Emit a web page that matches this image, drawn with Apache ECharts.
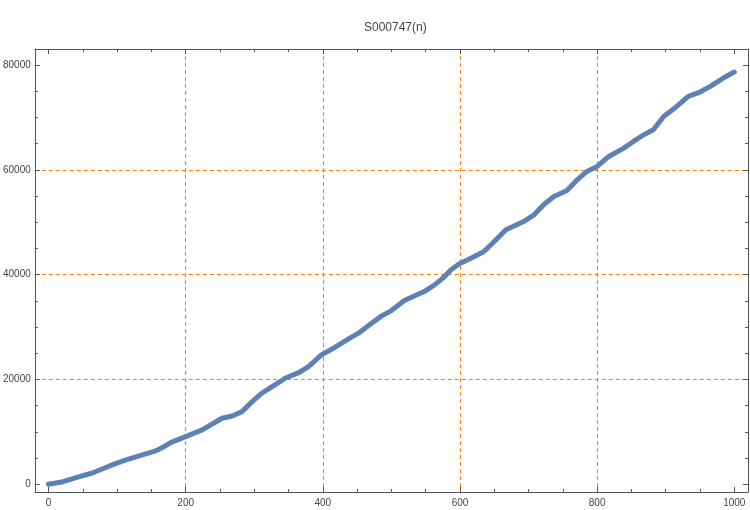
<!DOCTYPE html>
<html>
<head>
<meta charset="utf-8">
<script src="https://cdn.jsdelivr.net/npm/echarts@6/dist/echarts.min.js"></script>
<style>html,body{margin:0;padding:0;background:#fff}#c{width:750px;height:510px}</style>
</head>
<body>
<div id="c"></div>
<script>
var titleText = 'S000747(n)';
var nValues = [0,21,40,65,89,113,137,156,166,178,200,224,253,268,282,297,311,326,340,345,365,379,398,418,437,452,471,486,500,519,534,548,563,575,587,599,616,635,650,667,693,708,722,737,756,771,785,800,817,839,853,868,882,897,916,933,950,965,984,1000];
var sValues = [0,500,1260,2200,3500,4640,5600,6360,7000,7940,9090,10370,12600,13040,13860,15770,17370,18630,19780,20230,21300,22450,24680,26150,27680,28830,30730,32130,33140,35050,35950,36770,38050,39330,40910,42060,43140,44400,46310,48550,50130,51410,53320,54900,56050,58090,59680,60630,62540,64140,65400,66680,67640,70180,72090,74000,74830,75900,77500,78650];
var xTicks = [0,200,400,600,800,1000];
var xMinorTicks = [50,100,150,250,300,350,450,500,550,650,700,750,850,900,950];
var yTicks = [0,20000,40000,60000,80000];
var yMinorTicks = [5000,10000,15000,25000,30000,35000,45000,50000,55000,65000,70000,75000];
var xGridLines = [200,400,600,800];
var yGridLines = [20000,40000,60000];

var X_MIN = -20, X_MAX = 1020, Y_MIN = -1470, Y_MAX = 83040;
var frameColor = '#555555';
var gridLineStyle = {color:'#FF8000', type:[4,3], width:1};
var labelStyle = {color:'#444444', fontSize:10, fontFamily:'Liberation Sans, Arial, sans-serif'};

function xAx(pos, vals, len, labels, line, split){
  return {
    type:'value', position:pos, min:X_MIN, max:X_MAX,
    axisLine:{show:line, onZero:false, lineStyle:{color:frameColor, width:1}},
    axisTick:{show:len > 0, inside:true, interval:0, length:len, customValues:vals, lineStyle:{color:frameColor}},
    axisLabel:Object.assign({show:labels, interval:0, margin:6, customValues:vals, formatter:function(v){return String(v);}}, labelStyle),
    splitLine:{show:!!split, interval:0, showMinLine:true, showMaxLine:true, lineStyle:gridLineStyle}
  };
}
function yAx(pos, vals, len, labels, line, split){
  return {
    type:'value', position:pos, min:Y_MIN, max:Y_MAX,
    axisLine:{show:line, onZero:false, lineStyle:{color:frameColor, width:1}},
    axisTick:{show:len > 0, inside:true, interval:0, length:len, customValues:vals, lineStyle:{color:frameColor}},
    axisLabel:Object.assign({show:labels, interval:0, margin:4, customValues:vals, formatter:function(v){return String(v);}}, labelStyle),
    splitLine:{show:!!split, interval:0, showMinLine:true, showMaxLine:true, lineStyle:gridLineStyle}
  };
}

var pts = nValues.map(function(n,i){return [n, sValues[i]];});

var chart = echarts.init(document.getElementById('c'), null, {renderer:'canvas'});
chart.setOption({
  animation:false,
  backgroundColor:'#ffffff',
  title:{text:titleText, left:359, top:17, textStyle:{color:'#444444', fontSize:12, fontWeight:'normal', fontFamily:'Liberation Sans, Arial, sans-serif'}},
  grid:{left:32, right:2, top:49, bottom:18, containLabel:false},
  xAxis:[
    xAx('bottom', xTicks, 5, true, true),
    xAx('bottom', xMinorTicks, 3, false, false),
    xAx('top', xTicks, 5, false, true),
    xAx('top', xMinorTicks, 3, false, false),
    xAx('bottom', xGridLines, 0, false, false, true)
  ],
  yAxis:[
    yAx('left', yTicks, 5, true, true),
    yAx('left', yMinorTicks, 3, false, false),
    yAx('right', yTicks, 5, false, true),
    yAx('right', yMinorTicks, 3, false, false),
    yAx('left', yGridLines, 0, false, false, true)
  ],
  series:[{
    type:'line', xAxisIndex:0, yAxisIndex:0, data:pts,
    showSymbol:false, symbol:'none', smooth:false,
    lineStyle:{color:'#5E81B5', width:5, cap:'round', join:'round'},
    z:3
  }]
});
</script>
</body>
</html>
